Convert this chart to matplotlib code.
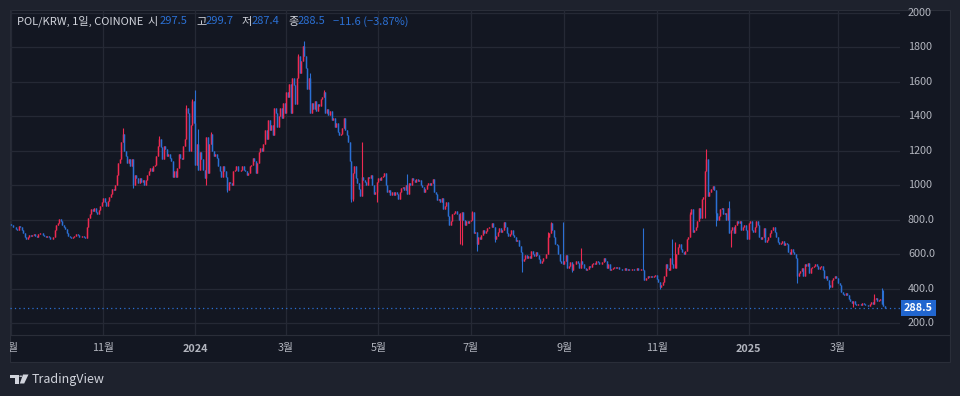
import pandas as pd
import matplotlib
matplotlib.use('Agg')
import matplotlib.pyplot as plt
import matplotlib.transforms as mtransforms
from matplotlib.patches import Rectangle, Polygon, Circle
from matplotlib.lines import Line2D

plt.rcParams['font.family'] = ['Noto Sans CJK KR', 'DejaVu Sans']

# daily candles, POL/KRW on Coinone, 2023-09-01 .. 2025-04-01
start_date = '2023-09-01'
first_open = 775.0
closes = [
    # 2023-09
    770, 760, 755, 745, 740, 765, 760, 740, 725, 700,
    685, 700, 710, 705, 710, 715, 705, 700, 715, 720,
    725, 710, 705, 700, 705, 700, 690, 685, 700, 740,
    # 2023-10
    770, 780, 805, 790, 770, 760, 745, 720, 705, 700,
    695, 700, 705, 715, 710, 700, 700, 705, 700, 695,
    760, 810, 830, 860, 850, 870, 845, 830, 855, 880,
    900,
    # 2023-11
    925, 900, 880, 910, 930, 950, 980, 975, 1000, 1060,
    1130, 1150, 1250, 1300, 1200, 1170, 1130, 1150, 1110, 1150,
    1000, 1060, 1040, 1010, 1040, 1020, 1030, 1000, 1030, 1060,
    # 2023-12
    1080, 1100, 1085, 1110, 1120, 1170, 1230, 1270, 1220, 1150,
    1230, 1210, 1170, 1180, 1160, 1140, 1050, 1080, 1045, 1100,
    1180, 1160, 1150, 1230, 1270, 1450, 1420, 1200, 1350, 1490,
    1360,
    # 2024-01
    1120, 1240, 1090, 1190, 1150, 1090, 1040, 1280, 1070, 1240,
    1300, 1200, 1170, 1180, 1160, 1110, 1080, 1050, 1110, 1080,
    1050, 970, 1020, 1010, 1000, 1080, 1090, 1110, 1080, 1085,
    1090,
    # 2024-02
    1110, 1090, 1080, 1060, 1070, 1110, 1120, 1160, 1140, 1070,
    1130, 1190, 1215, 1200, 1240, 1320, 1270, 1380, 1320, 1350,
    1290, 1450, 1420, 1340, 1400, 1450, 1390, 1480, 1420,
    # 2024-03
    1540, 1510, 1590, 1420, 1620, 1580, 1470, 1620, 1750, 1650,
    1720, 1810, 1750, 1680, 1560, 1620, 1420, 1480, 1440, 1490,
    1430, 1470, 1460, 1500, 1510, 1540, 1420, 1440, 1410, 1430,
    1380,
    # 2024-04
    1390, 1340, 1360, 1310, 1290, 1300, 1330, 1390, 1320, 1290,
    1250, 1140, 920, 1070, 1110, 1040, 1010, 980, 940, 1050,
    1030, 1020, 1000, 1050, 1040, 1060, 1000, 950, 960, 1020,
    # 2024-05
    1040, 1030, 1050, 1055, 1070, 1000, 960, 975, 945, 960,
    945, 960, 950, 920, 960, 985, 990, 970, 1000, 950,
    1010, 1000, 1040, 1030, 1020, 1035, 1025, 1030, 1000, 990,
    960,
    # 2024-06
    980, 1000, 1010, 1000, 1015, 1035, 960, 950, 915, 920,
    900, 925, 860, 880, 900, 820, 770, 790, 830, 840,
    850, 830, 800, 840, 845, 800, 770, 790, 780, 790,
    # 2024-07
    800, 845, 720, 730, 660, 700, 690, 710, 740, 725,
    735, 750, 755, 760, 780, 760, 690, 705, 730, 750,
    730, 740, 785, 760, 720, 705, 715, 740, 710, 700,
    675,
    # 2024-08
    680, 645, 610, 560, 570, 595, 575, 590, 580, 620,
    600, 590, 610, 595, 570, 550, 560, 575, 580, 600,
    700, 720, 780, 740, 700, 660, 650, 600, 560, 550,
    545,
    # 2024-09
    560, 595, 520, 530, 555, 505, 540, 545, 560, 550,
    520, 560, 540, 520, 510, 515, 530, 525, 540, 550,
    545, 560, 555, 540, 545, 555, 575, 560, 520, 540,
    # 2024-10
    505, 515, 520, 525, 520, 527, 515, 512, 505, 510,
    520, 508, 515, 510, 505, 512, 510, 508, 520, 510,
    505, 515, 508, 450, 460, 475, 465, 475, 465, 470,
    480,
    # 2024-11
    455, 440, 410, 420, 440, 470, 545, 520, 510, 580,
    540, 520, 520, 600, 640, 660, 630, 610, 600, 620,
    690, 700, 830, 860, 730, 740, 760, 790, 870, 810,
    # 2024-12
    920, 930, 1080, 1150, 940, 960, 980, 995, 975, 840,
    800, 820, 860, 870, 830, 840, 800, 870, 720, 740,
    760, 720, 770, 790, 780, 790, 740, 760, 770, 740,
    690,
    # 2025-01
    780, 790, 740, 730, 760, 790, 770, 700, 690, 700,
    750, 670, 680, 700, 720, 740, 760, 730, 700, 670,
    660, 665, 675, 650, 665, 660, 610, 600, 630, 610,
    600,
    # 2025-02
    580, 470, 490, 500, 520, 470, 540, 530, 550, 490,
    520, 525, 530, 540, 530, 515, 525, 530, 510, 460,
    470, 450, 420, 410, 450, 460, 470, 460,
    # 2025-03
    430, 420, 380, 370, 365, 375, 360, 340, 325, 315,
    330, 310, 305, 312, 310, 305, 315, 308, 305, 302,
    300, 310, 320, 312, 340, 345, 330, 335, 340, 310,
    300.1,
    # 2025-04-01
    288.5,
]

# long wicks (candle index -> price)
high_wicks = {74: 1330, 98: 1285, 116: 1465, 120: 1500, 122: 1550, 124: 1325,
              132: 1310, 190: 1760, 194: 1835, 198: 1650, 207: 1550, 220: 1365,
              232: 1250, 262: 1065, 305: 852, 355: 727, 357: 785, 365: 785,
              377: 635, 418: 750, 437: 690, 439: 670, 449: 845, 460: 1210,
              475: 910, 571: 367, 576: 404, 577: 390}
low_wicks = {81: 985, 129: 1000, 143: 960, 225: 900, 226: 910, 242: 900,
             297: 660, 298: 650, 308: 620, 320: 670, 338: 496, 371: 496,
             429: 400, 459: 810, 466: 765, 476: 640, 520: 430, 541: 400,
             551: 362, 557: 294}

last_open, last_high, last_low = 297.5, 299.7, 287.4
last_close = closes[-1]

price_ticks = [200, 400, 600, 800, 1000, 1200, 1400, 1600, 1800, 2000]
price_labels = ['200.0', '400.0', '600.0', '800.0', '1000', '1200', '1400', '1600', '1800', '2000']

month_starts = ['2023-09-01', '2023-11-01', '2024-01-01', '2024-03-01', '2024-05-01',
                '2024-07-01', '2024-09-01', '2024-11-01', '2025-01-01', '2025-03-01']
month_labels = ['9월', '11월', '2024', '3월', '5월', '7월', '9월', '11월', '2025', '3월']

header_texts = ['POL/KRW, 1일, COINONE', '시', '297.5', '고', '299.7', '저', '287.4',
                '종', '288.5', '−11.6 (−3.87%)']

UP = '#ee2a52'
DOWN = '#2b70d4'
BG = '#131722'
OUTER = '#1e222d'
GRID = '#252935'
BORDER = '#2a2e39'
TEXT = '#d1d4dc'
AXTEXT = '#b2b5be'

W, H = 960, 396


def fx(px):
    return px / W


def fy(py):
    return 1 - py / H


def build_candles():
    n = len(closes)
    opens = [first_open] + closes[:-1]
    opens[-1] = last_open
    highs = [max(o, c) for o, c in zip(opens, closes)]
    lows = [min(o, c) for o, c in zip(opens, closes)]
    for i, v in high_wicks.items():
        highs[i] = max(highs[i], v)
    for i, v in low_wicks.items():
        lows[i] = min(lows[i], v)
    highs[-1] = last_high
    lows[-1] = last_low
    df = pd.DataFrame({'open': opens, 'high': highs, 'low': lows, 'close': closes})
    df['date'] = pd.date_range(start_date, periods=n, freq='D')
    return df


df = build_candles()
t0 = pd.Timestamp(start_date)

fig = plt.figure(figsize=(9.6, 3.96), dpi=100, facecolor=OUTER)
fig.add_artist(Rectangle((fx(10), fy(362)), 940 / W, 352 / H, transform=fig.transFigure,
                         facecolor=BG, edgecolor=BORDER, linewidth=0.8, zorder=0))

ax = fig.add_axes([fx(10), fy(335), 890 / W, 325 / H])
ax.set_facecolor('none')
for s in ax.spines.values():
    s.set_visible(False)
ax.set_xticks([])
ax.set_yticks([])
ax.set_xlim(-0.66, 588.0)
ax.set_ylim(130.3, 2017.4)

month_idx = [(pd.Timestamp(m) - t0).days for m in month_starts]
for p in price_ticks:
    ax.axhline(p, color=GRID, linewidth=0.9, zorder=0)
for m in month_idx:
    ax.axvline(m, color=GRID, linewidth=0.9, zorder=0)

x = list(range(len(df)))
colors = [UP if c >= o else DOWN for o, c in zip(df['open'], df['close'])]
# wick, then body
ax.vlines(x, df['low'], df['high'], colors=colors, linewidth=0.8, zorder=2)
body_lo = [min(o, c) for o, c in zip(df['open'], df['close'])]
body_hi = [max(o, c) for o, c in zip(df['open'], df['close'])]
ax.vlines(x, body_lo, body_hi, colors=colors, linewidth=1.05, zorder=3)

ax.axhline(last_close, color=DOWN, linewidth=0.9, linestyle=(0, (1, 2.5)), zorder=1)

# price scale
trans = mtransforms.blended_transform_factory(ax.transAxes, ax.transData)
for p, lab in zip(price_ticks, price_labels):
    ax.text((908 - 10) / 890, p, lab, transform=trans, ha='left', va='center',
            fontsize=7.8, color=AXTEXT, clip_on=False)
ax.text((918.5 - 10) / 890, last_close, f'{last_close:.1f}', transform=trans,
        ha='center', va='center', fontsize=7.8, fontweight='bold', color='white',
        bbox=dict(boxstyle='square,pad=0.3', facecolor='#2166cf', edgecolor='none'),
        clip_on=False, zorder=5)

fig.add_artist(Line2D([fx(10), fx(950)], [fy(335), fy(335)], transform=fig.transFigure,
                      color=BORDER, linewidth=0.8))

# time scale
tax = fig.add_axes([fx(10), fy(362), 890 / W, 27 / H])
tax.set_facecolor('none')
tax.axis('off')
tax.set_xlim(ax.get_xlim())
tax.set_ylim(0, 1)
for m, lab in zip(month_idx, month_labels):
    bold = lab.isdigit()
    tax.text(m, 0.5, lab, ha='center', va='center', fontsize=7.8, color=AXTEXT,
             fontweight='bold' if bold else 'normal', clip_on=True)

# legend line at top left
header_x = [17, 147, 160, 196, 206, 242, 252, 288, 298, 333]
header_col = [TEXT, TEXT, DOWN, TEXT, DOWN, TEXT, DOWN, TEXT, DOWN, DOWN]
for s, hx, c in zip(header_texts, header_x, header_col):
    fig.text(fx(hx), fy(21.5), s, ha='left', va='center', fontsize=8, color=c)

# TradingView mark
fig.add_artist(Polygon([(fx(9.5), fy(374.5)), (fx(18.5), fy(374.5)), (fx(18.5), fy(383.5)),
                        (fx(14.5), fy(383.5)), (fx(14.5), fy(377.8)), (fx(9.5), fy(377.8))],
                       closed=True, transform=fig.transFigure, facecolor=TEXT, edgecolor='none'))
fig.add_artist(Circle((fx(20.8), fy(376.2)), 1.6 / W, transform=fig.transFigure,
                      facecolor=TEXT, edgecolor='none'))
fig.add_artist(Polygon([(fx(23.0), fy(374.5)), (fx(28.5), fy(374.5)), (fx(24.2), fy(383.5)),
                        (fx(19.8), fy(383.5))],
                       closed=True, transform=fig.transFigure, facecolor=TEXT, edgecolor='none'))
fig.text(fx(32), fy(379), 'TradingView', ha='left', va='center', fontsize=9, color=TEXT)

fig.savefig('out.png', dpi=100, facecolor=fig.get_facecolor())
